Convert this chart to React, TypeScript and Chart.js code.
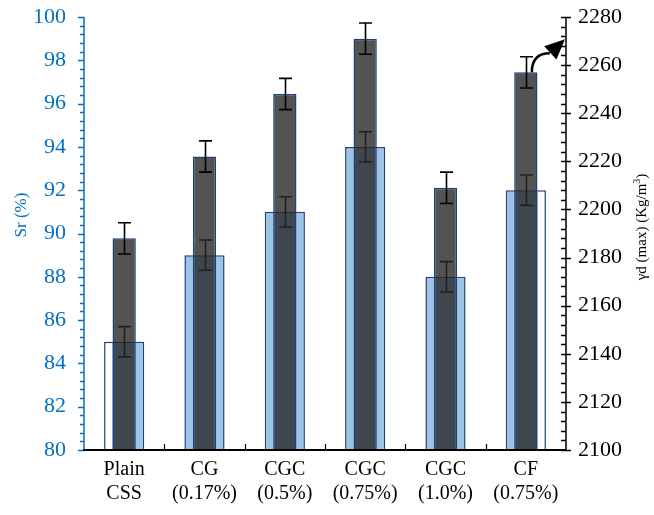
import React, { useEffect, useRef } from "react";
import { Chart, registerables } from "chart.js";

Chart.register(...registerables);

// Mix categories (two-line tick labels)
const categories: string[][] = [
  ["Plain", "CSS"],
  ["CG", "(0.17%)"],
  ["CGC", "(0.5%)"],
  ["CGC", "(0.75%)"],
  ["CGC", "(1.0%)"],
  ["CF", "(0.75%)"],
];

// Degree of saturation, Sr (%) — left axis
const srValues: number[] = [85, 89, 91, 94, 88, 92];
const srErrors: number[] = [0.7, 0.7, 0.7, 0.7, 0.7, 0.7];

// Maximum dry density, γd (max) (Kg/m³) — right axis
const gammaValues: number[] = [2188, 2222, 2248, 2271, 2209, 2257];
const gammaErrors: number[] = [6.5, 6.5, 6.5, 6.5, 6.5, 6.5];

const LEFT_MIN = 80;
const LEFT_MAX = 100;
const RIGHT_MIN = 2100;
const RIGHT_MAX = 2280;

const LIGHT_FILL = "#9DC3E6";
const NAVY = "#203F7C";
const DARK_FILL = "rgba(40,40,40,0.8)";
const AXIS_BLUE = "#0070C0";
const FONT = "'Liberation Serif', 'Times New Roman', serif";

const LIGHT_PCT = 0.5;
const DARK_PCT = 0.29;

// Error bars, drawn right after their own dataset so they layer with it
const errorBarPlugin = {
  id: "errorBars",
  afterDatasetDraw(chart: any, args: any) {
    const ds = chart.data.datasets[args.index] as any;
    const errs: number[] | undefined = ds.errors;
    if (!errs) return;
    const yScale = chart.scales[ds.yAxisID];
    const xScale = chart.scales.x;
    const ctx = chart.ctx;
    ctx.save();
    ctx.strokeStyle = "#000";
    ctx.lineWidth = 1.6;
    ds.data.forEach((v: number, i: number) => {
      const x = Math.round(xScale.getPixelForValue(i)) + 0.5;
      const yTop = yScale.getPixelForValue(v + errs[i]);
      const yBot = yScale.getPixelForValue(v - errs[i]);
      ctx.beginPath();
      ctx.moveTo(x, yTop);
      ctx.lineTo(x, yBot);
      ctx.moveTo(x - 6.5, yTop);
      ctx.lineTo(x + 6.5, yTop);
      ctx.moveTo(x - 6.5, yBot);
      ctx.lineTo(x + 6.5, yBot);
      ctx.stroke();
    });
    ctx.restore();
  },
};

// Axis lines, minor/major tick marks, axis titles and the pointer arrow
const decorPlugin = {
  id: "decor",
  afterDraw(chart: any) {
    const ctx = chart.ctx;
    const { left, right, top, bottom } = chart.chartArea;
    const yL = chart.scales.y;
    const yR = chart.scales.y1;
    const xS = chart.scales.x;
    ctx.save();

    // left axis (blue)
    ctx.strokeStyle = AXIS_BLUE;
    ctx.lineWidth = 1.5;
    ctx.beginPath();
    ctx.moveTo(left, top);
    ctx.lineTo(left, bottom);
    for (let k = 0; k <= 50; k++) {
      const v = LEFT_MIN + k * 0.4;
      const y = Math.round(yL.getPixelForValue(v)) + 0.5;
      const len = k % 5 === 0 ? 6 : 4;
      ctx.moveTo(left - len, y);
      ctx.lineTo(left, y);
    }
    ctx.stroke();

    // right axis (black)
    ctx.strokeStyle = "#000";
    ctx.lineWidth = 1.5;
    ctx.beginPath();
    ctx.moveTo(right, top);
    ctx.lineTo(right, bottom);
    for (let k = 0; k <= 45; k++) {
      const v = RIGHT_MIN + k * 4;
      const y = Math.round(yR.getPixelForValue(v)) + 0.5;
      if (k % 5 === 0) {
        ctx.moveTo(right - 5, y);
        ctx.lineTo(right + 5, y);
      } else {
        ctx.moveTo(right - 5, y);
        ctx.lineTo(right, y);
      }
    }
    ctx.stroke();

    // bottom axis with category separators
    ctx.lineWidth = 2;
    ctx.beginPath();
    ctx.moveTo(left - 1, bottom);
    ctx.lineTo(right, bottom);
    ctx.stroke();
    ctx.lineWidth = 1.2;
    ctx.beginPath();
    const n = categories.length;
    const step = (right - left) / n;
    for (let i = 1; i < n; i++) {
      const x = Math.round(left + i * step) + 0.5;
      ctx.moveTo(x, bottom);
      ctx.lineTo(x, bottom - 6);
    }
    ctx.stroke();

    // axis titles
    ctx.fillStyle = AXIS_BLUE;
    ctx.font = `17px ${FONT}`;
    ctx.textAlign = "center";
    ctx.textBaseline = "middle";
    ctx.save();
    ctx.translate(22, 215);
    ctx.rotate(-Math.PI / 2);
    ctx.fillText("Sr (%)", 0, 0);
    ctx.restore();

    ctx.fillStyle = "#000";
    ctx.save();
    ctx.translate(642, 227);
    ctx.rotate(-Math.PI / 2);
    const main = "γd (max) (Kg/m";
    const big = `15px ${FONT}`;
    const small = `10px ${FONT}`;
    ctx.font = big;
    const wMain = ctx.measureText(main).width;
    ctx.font = small;
    const wSup = ctx.measureText("3").width;
    ctx.font = big;
    const wClose = ctx.measureText(")").width;
    const total = wMain + wSup + wClose;
    let x0 = -total / 2;
    ctx.textAlign = "left";
    ctx.fillText(main, x0, 0);
    x0 += wMain;
    ctx.font = small;
    ctx.fillText("3", x0, -5);
    x0 += wSup;
    ctx.font = big;
    ctx.fillText(")", x0, 0);
    ctx.restore();

    // curved arrow from the last dark bar toward the right axis
    const last = n - 1;
    const cx = xS.getPixelForValue(last);
    const barTop = yR.getPixelForValue(gammaValues[last]);
    const sx = cx + 6;
    const sy = barTop;
    const ex = cx + 24;
    const ey = barTop - 19;
    const tipX = right - 1;
    const tipY = barTop - 33;
    ctx.strokeStyle = "#000";
    ctx.lineWidth = 2.5;
    ctx.beginPath();
    ctx.moveTo(sx, sy);
    ctx.quadraticCurveTo(sx, ey, ex, ey);
    ctx.stroke();
    const dx = tipX - ex;
    const dy = tipY - ey;
    const d = Math.hypot(dx, dy);
    const ux = dx / d;
    const uy = dy / d;
    const px = -uy;
    const py = ux;
    const hl = 20;
    const hw = 9;
    const bx = tipX - ux * hl;
    const by = tipY - uy * hl;
    ctx.fillStyle = "#000";
    ctx.beginPath();
    ctx.moveTo(tipX, tipY);
    ctx.lineTo(bx + px * hw, by + py * hw);
    ctx.lineTo(bx - px * hw, by - py * hw);
    ctx.closePath();
    ctx.fill();

    ctx.restore();
  },
};

function lightFill(c: any): any {
  if (c.type !== "data") return LIGHT_FILL;
  const i = c.dataIndex;
  const last = categories.length - 1;
  if (i !== 0 && i !== last) return LIGHT_FILL;
  const chart = c.chart;
  const xs = chart.scales.x;
  if (!xs || !chart.chartArea) return LIGHT_FILL;
  const cx = xs.getPixelForValue(i);
  const half = ((xs.width / categories.length) * DARK_PCT) / 2;
  if (i === 0) {
    const g = chart.ctx.createLinearGradient(cx - half - 1, 0, cx - half, 0);
    g.addColorStop(0, "#FFFFFF");
    g.addColorStop(1, LIGHT_FILL);
    return g;
  }
  const g = chart.ctx.createLinearGradient(cx + half, 0, cx + half + 1, 0);
  g.addColorStop(0, LIGHT_FILL);
  g.addColorStop(1, "#FFFFFF");
  return g;
}

// Fix a vertical scale's width and drop its label overhang so the plot
// area follows the layout padding exactly
function fixVertical(width: number) {
  return (s: any) => {
    s.width = width;
    s.paddingTop = 0;
    s.paddingBottom = 0;
  };
}

export default function App() {
  const canvasRef = useRef<HTMLCanvasElement | null>(null);

  useEffect(() => {
    document.body.style.margin = "0";
    const canvas = canvasRef.current;
    if (!canvas) return;
    const chart = new Chart(canvas, {
      type: "bar",
      data: {
        labels: categories as any,
        datasets: [
          {
            label: "γd (max)",
            data: gammaValues,
            errors: gammaErrors,
            yAxisID: "y1",
            backgroundColor: DARK_FILL,
            borderColor: NAVY,
            borderWidth: 1.5,
            barPercentage: DARK_PCT,
            categoryPercentage: 1,
            grouped: false,
            order: 0,
          } as any,
          {
            label: "Sr",
            data: srValues,
            errors: srErrors,
            yAxisID: "y",
            backgroundColor: lightFill,
            borderColor: NAVY,
            borderWidth: 1.5,
            barPercentage: LIGHT_PCT,
            categoryPercentage: 1,
            grouped: false,
            order: 1,
          } as any,
        ],
      },
      options: {
        responsive: false,
        animation: false,
        events: [],
        layout: { padding: { top: 17, left: 0, right: 0, bottom: 0 } },
        plugins: {
          legend: { display: false },
          tooltip: { enabled: false },
        },
        scales: {
          x: {
            type: "category",
            offset: true,
            grid: { display: false, drawTicks: false },
            border: { display: false },
            ticks: {
              color: "#000",
              font: { family: FONT, size: 20, lineHeight: 1.2 },
              padding: 8,
              autoSkip: false,
              maxRotation: 0,
              minRotation: 0,
            },
            afterFit: (s: any) => {
              s.height = 65;
              s.paddingLeft = 0;
              s.paddingRight = 0;
            },
          },
          y: {
            type: "linear",
            position: "left",
            min: LEFT_MIN,
            max: LEFT_MAX,
            grid: { display: false, drawTicks: false },
            border: { display: false },
            ticks: {
              stepSize: 2,
              color: AXIS_BLUE,
              font: { family: FONT, size: 22 },
              padding: 18,
            },
            afterFit: fixVertical(84),
          },
          y1: {
            type: "linear",
            position: "right",
            min: RIGHT_MIN,
            max: RIGHT_MAX,
            grid: { display: false, drawTicks: false },
            border: { display: false },
            ticks: {
              stepSize: 20,
              color: "#000",
              font: { family: FONT, size: 22 },
              padding: 12,
              callback: (v: any) => String(v),
            },
            afterFit: fixVertical(88),
          },
        },
      },
      plugins: [errorBarPlugin, decorPlugin],
    });
    return () => chart.destroy();
  }, []);

  return (
    <div style={{ width: 654, height: 515 }}>
      <canvas ref={canvasRef} width={654} height={515} style={{ display: "block" }} />
    </div>
  );
}
